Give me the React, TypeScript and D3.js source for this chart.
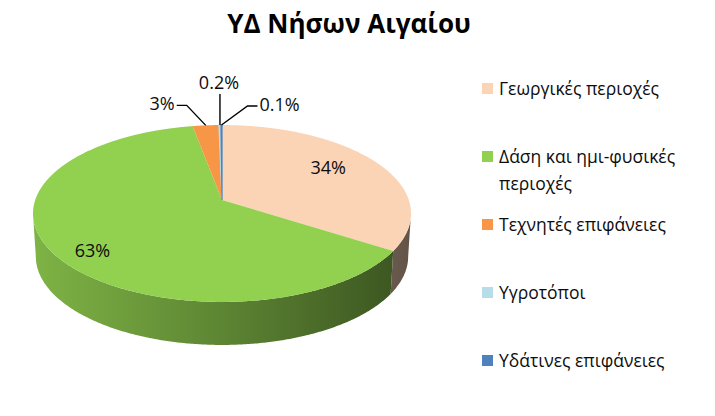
import React from "react";
import * as d3 from "d3";

const title = "ΥΔ Νήσων Αιγαίου";
const categories = [
  "Γεωργικές περιοχές",
  "Δάση και ημι-φυσικές περιοχές",
  "Τεχνητές επιφάνειες",
  "Υγροτόποι",
  "Υδάτινες επιφάνειες",
];
const legendLines = [
  ["Γεωργικές περιοχές"],
  ["Δάση και ημι-φυσικές", "περιοχές"],
  ["Τεχνητές επιφάνειες"],
  ["Υγροτόποι"],
  ["Υδάτινες επιφάνειες"],
];
const values = [34.1, 63.0, 2.6, 0.2, 0.1];
const colors = ["#FBD3B5", "#92D050", "#F79646", "#B7DEE8", "#4F81BD"];

const W = 715;
const H = 416;
const FONT = "'Open Sans', 'Noto Sans', sans-serif";

// perspective pie geometry
const CX = 222;
const CY = 200;
const A = 186.8;
const B = 86.4;
const K = 0.1525;
const DEPTH = 43;
const BOTTOM_SCALE = 0.985;

function proj(deg: number, r = 1): [number, number] {
  const t = (deg * Math.PI) / 180;
  const u = r * Math.sin(t);
  const v = r * Math.cos(t);
  const w = 1 + K * v;
  return [CX + (A * u) / w, CY - (B * v) / w];
}
function projBottom(deg: number): [number, number] {
  const [x, y] = proj(deg, 1);
  return [CX + (x - CX) * BOTTOM_SCALE, y + DEPTH];
}
function range(a: number, b: number, step = 0.5) {
  const out: number[] = [];
  for (let t = a; t < b; t += step) out.push(t);
  out.push(b);
  return out;
}
function shade(c: string, f: number) {
  const col = d3.rgb(c);
  return d3.rgb(col.r * f, col.g * f, col.b * f).formatHex();
}
function fmt(v: number) {
  return v >= 1 ? `${Math.round(v)}%` : `${v.toFixed(1)}%`;
}

const VIS_A = (Math.acos(-K) * 180) / Math.PI; // ~98.8
const VIS_B = 360 - VIS_A;

export default function App() {
  const pie = d3
    .pie<number>()
    .sort(null)
    .value((d) => d);
  const arcs = pie(values).map((a) => ({
    ...a,
    a0: (a.startAngle * 180) / Math.PI,
    a1: (a.endAngle * 180) / Math.PI,
  }));
  const line = d3.line<[number, number]>().x((d) => d[0]).y((d) => d[1]);
  const color = d3.scaleOrdinal<string, string>().domain(categories).range(colors);

  const legendY = d3.scalePoint<string>().domain(categories).range([88, 360]);

  // outside label offsets (layout only)
  const outside: Record<number, { elbow: [number, number]; end: [number, number]; anchor: string; text: [number, number] }> = {
    2: { elbow: [-19, -20], end: [-29, -20], anchor: "end", text: [-31, -22] },
    3: { elbow: [0, -31], end: [0, -31], anchor: "middle", text: [-1, -43] },
    4: { elbow: [26, -19], end: [36, -19], anchor: "start", text: [38, -21] },
  };
  const insideR: Record<number, number> = { 0: 0.68, 1: 0.78 };
  const insideDy: Record<number, number> = { 0: -6, 1: 10 };

  return (
    <svg
      width={W}
      height={H}
      style={{ position: "absolute", left: 0, top: 0, background: "#fff" }}
      fontFamily={FONT}
    >
      <defs>
        {arcs.map((a, i) => (
          <linearGradient
            key={i}
            id={`side${i}`}
            gradientUnits="userSpaceOnUse"
            x1={CX - A}
            x2={CX + A}
            y1={0}
            y2={0}
          >
            <stop offset="0" stopColor={shade(colors[i], 0.86)} />
            <stop offset="0.5" stopColor={shade(colors[i], 0.64)} />
            <stop offset="1" stopColor={shade(colors[i], 0.4)} />
          </linearGradient>
        ))}
      </defs>
      <text
        x={349}
        y={33}
        textAnchor="middle"
        fontSize={26}
        fontWeight="bold"
        fill="#000"
      >
        {title}
      </text>

      {/* side walls */}
      {arcs.map((a, i) => {
        const s = Math.max(a.a0, VIS_A);
        const e = Math.min(a.a1, VIS_B);
        if (e <= s) return null;
        const ts = range(s, e);
        const pts: [number, number][] = [
          ...ts.map((t) => proj(t)),
          ...ts.slice().reverse().map((t) => projBottom(t)),
        ];
        return <path key={i} d={line(pts) + "Z"} fill={`url(#side${i})`} />;
      })}

      {/* top faces */}
      {arcs.map((a, i) => {
        const pts: [number, number][] = [[CX, CY], ...range(a.a0, a.a1, 0.25).map((t) => proj(t))];
        return (
          <path
            key={i}
            d={line(pts) + "Z"}
            fill={color(categories[i])}
            stroke={i >= 3 ? color(categories[i]) : "none"}
            strokeWidth={i >= 3 ? 1.2 : 0}
          />
        );
      })}

      {/* labels */}
      {arcs.map((a, i) => {
        const mid = (a.a0 + a.a1) / 2;
        if (outside[i]) {
          const o = outside[i];
          const p = proj(mid);
          const pts: [number, number][] = [
            p,
            [p[0] + o.elbow[0], p[1] + o.elbow[1]],
            [p[0] + o.end[0], p[1] + o.end[1]],
          ];
          return (
            <g key={i}>
              <path d={line(pts) ?? ""} fill="none" stroke="#000" strokeWidth={1.4} />
              <text
                x={p[0] + o.text[0]}
                y={p[1] + o.text[1]}
                textAnchor={o.anchor}
                dominantBaseline="central"
                fontSize={18}
                fill="#0d0d0d"
              >
                {fmt(values[i])}
              </text>
            </g>
          );
        }
        const p = proj(mid, insideR[i]);
        return (
          <text
            key={i}
            x={p[0]}
            y={p[1] + insideDy[i]}
            textAnchor="middle"
            dominantBaseline="central"
            fontSize={18}
            fill="#0d0d0d"
          >
            {fmt(values[i])}
          </text>
        );
      })}

      {/* legend */}
      {categories.map((c, i) => {
        const y = legendY(c)!;
        return (
          <g key={c}>
            <rect x={482} y={y - 5} width={11} height={11} fill={color(c)} />
            {legendLines[i].map((ln, j) => (
              <text
                key={j}
                x={499}
                y={y + j * 27}
                dominantBaseline="central"
                fontSize={17.5}
                fill="#0d0d0d"
              >
                {ln}
              </text>
            ))}
          </g>
        );
      })}
    </svg>
  );
}
